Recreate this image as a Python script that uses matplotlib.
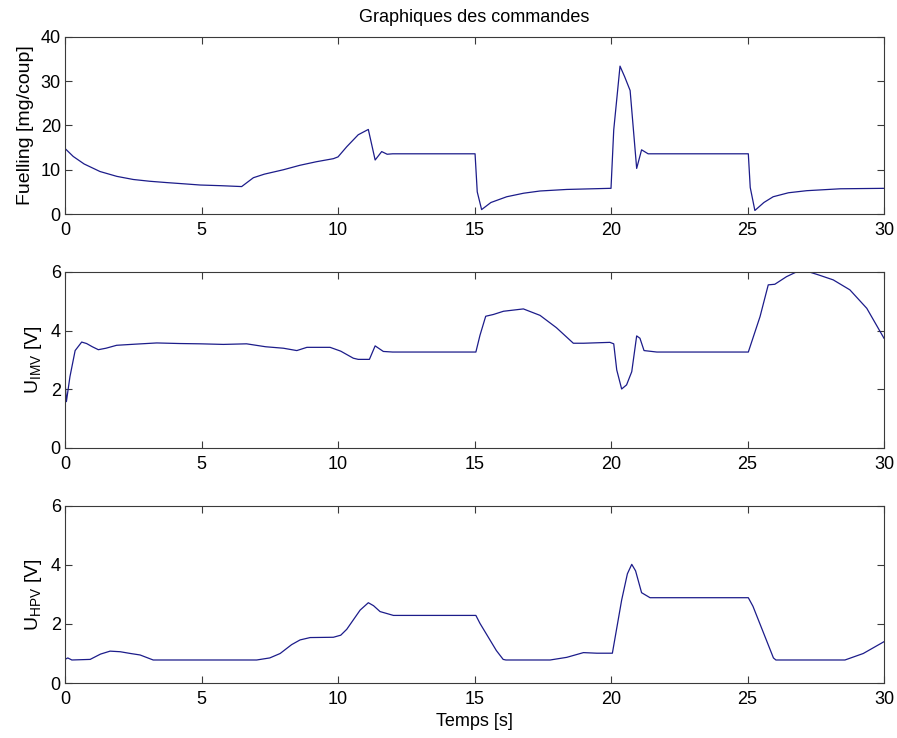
import matplotlib
matplotlib.use("Agg")
import matplotlib.pyplot as plt

plt.rcParams['font.family'] = ['Liberation Sans', 'DejaVu Sans']
plt.rcParams['mathtext.fontset'] = 'custom'
plt.rcParams['mathtext.rm'] = 'Liberation Sans'
plt.rcParams['mathtext.it'] = 'Liberation Sans'

# Fuelling command [mg/coup]
t_fuel = [0, 0.3, 0.7, 1.28, 1.9, 2.5, 3.1, 3.72, 4.4, 4.95, 5.7, 6.47, 6.9, 7.3,
          8.0, 8.6, 9.2, 9.83, 10.0, 10.32, 10.74, 11.11, 11.36, 11.6, 11.8, 12.0,
          15.02, 15.1, 15.26, 15.6, 16.18, 16.8, 17.4, 18.38, 19.96, 20.0, 20.1,
          20.33, 20.5, 20.7, 20.94, 21.12, 21.36, 25.03, 25.1, 25.27, 25.6, 25.94,
          26.5, 27.17, 28.4, 30]
fuel = [14.8, 13.0, 11.3, 9.6, 8.5, 7.8, 7.4, 7.1, 6.8, 6.55, 6.4, 6.2, 8.2, 9.0,
        10.0, 11.0, 11.8, 12.5, 12.9, 15.2, 17.9, 19.1, 12.2, 14.1, 13.5, 13.6,
        13.6, 5.0, 1.0, 2.6, 3.9, 4.7, 5.2, 5.55, 5.8, 5.8, 19.0,
        33.4, 31.0, 27.9, 10.3, 14.5, 13.6, 13.6, 6.0, 0.8, 2.6, 3.9,
        4.8, 5.27, 5.7, 5.8]

# IMV command voltage [V]
t_imv = [0, 0.05, 0.18, 0.37, 0.61, 0.79, 1.0, 1.22, 1.5, 1.89, 2.6, 3.36, 4.2,
         4.96, 5.8, 6.65, 7.35, 8.0, 8.49, 8.86, 9.71, 10.1, 10.56, 10.74, 11.15,
         11.36, 11.66, 12.0, 15.05, 15.2, 15.41, 15.69, 16.06, 16.79, 17.4, 18.0,
         18.62, 19.0, 19.96, 20.1, 20.21, 20.39, 20.57, 20.76, 20.94, 21.06, 21.21,
         21.68, 25.03, 25.46, 25.76, 26.0, 26.43, 26.86, 27.16, 27.6, 28.14, 28.75,
         29.37, 30]
u_imv = [2.25, 1.58, 2.43, 3.32, 3.61, 3.56, 3.45, 3.35, 3.4, 3.5, 3.54, 3.58, 3.56,
         3.55, 3.53, 3.55, 3.45, 3.4, 3.32, 3.43, 3.43, 3.3, 3.06, 3.02, 3.02,
         3.48, 3.29, 3.27, 3.27, 3.84, 4.49, 4.55, 4.66, 4.74, 4.52, 4.1,
         3.57, 3.57, 3.6, 3.55, 2.66, 2.01, 2.15, 2.6, 3.82, 3.74, 3.32,
         3.27, 3.27, 4.48, 5.56, 5.58, 5.84, 6.03, 6.03, 5.9, 5.73, 5.39,
         4.76, 3.74]

# HPV command voltage [V]
t_hpv = [0, 0.1, 0.25, 0.92, 1.3, 1.65, 2.02, 2.4, 2.75, 3.23, 7.02, 7.5, 7.88,
         8.3, 8.61, 8.98, 9.83, 10.1, 10.32, 10.81, 11.11, 11.3, 11.54, 12.03,
         15.05, 15.2, 15.8, 16.05, 16.15, 17.77, 18.38, 18.99, 19.48, 20.05, 20.39,
         20.6, 20.76, 20.9, 21.12, 21.43, 25.03, 25.2, 25.95, 26.04, 28.57, 29.24, 30]
u_hpv = [0.8, 0.85, 0.78, 0.8, 0.98, 1.08, 1.06, 1.0, 0.95, 0.78, 0.78, 0.85, 1.0,
         1.3, 1.46, 1.54, 1.55, 1.62, 1.82, 2.47, 2.72, 2.62, 2.42, 2.29,
         2.29, 2.02, 1.1, 0.8, 0.78, 0.78, 0.87, 1.03, 1.01, 1.01, 2.81,
         3.7, 4.02, 3.8, 3.06, 2.89, 2.89, 2.6, 0.85, 0.78, 0.78, 1.0, 1.4]

x_ticks = [0, 5, 10, 15, 20, 25, 30]
fuel_ticks = [0, 10, 20, 30, 40]
volt_ticks = [0, 2, 4, 6]

line_color = '#1c1c8a'
edge_color = '#3a3a3a'
fs = 13

fig = plt.figure(figsize=(8.97, 7.38), dpi=100)
fig.patch.set_facecolor('white')

rects = [
    [0.0725, 0.710, 0.913, 0.240],
    [0.0725, 0.393, 0.913, 0.2385],
    [0.0725, 0.0745, 0.913, 0.240],
]
panels = [
    (t_fuel, fuel, (0, 40), fuel_ticks, 'Fuelling [mg/coup]'),
    (t_imv, u_imv, (0, 6), volt_ticks, r'U$_{\mathregular{IMV}}$ [V]'),
    (t_hpv, u_hpv, (0, 6), volt_ticks, r'U$_{\mathregular{HPV}}$ [V]'),
]

axes = []
for rect, (tt, yy, ylim, yt, ylab) in zip(rects, panels):
    ax = fig.add_axes(rect)
    ax.plot(tt, yy, color=line_color, linewidth=0.9)
    ax.set_xlim(0, 30)
    ax.set_ylim(*ylim)
    ax.set_xticks(x_ticks)
    ax.set_yticks(yt)
    ax.tick_params(direction='in', top=True, right=True, length=5, width=0.8,
                   color=edge_color, labelsize=fs)
    ax.tick_params(axis='x', pad=6)
    ax.tick_params(axis='y', pad=3)
    for s in ax.spines.values():
        s.set_color(edge_color)
        s.set_linewidth(0.8)
    ax.set_ylabel(ylab, fontsize=14, labelpad=5)
    axes.append(ax)

axes[0].set_title('Graphiques des commandes', fontsize=13, pad=11)
axes[2].set_xlabel('Temps [s]', fontsize=fs, labelpad=3)

fig.savefig('out.png', dpi=100)
